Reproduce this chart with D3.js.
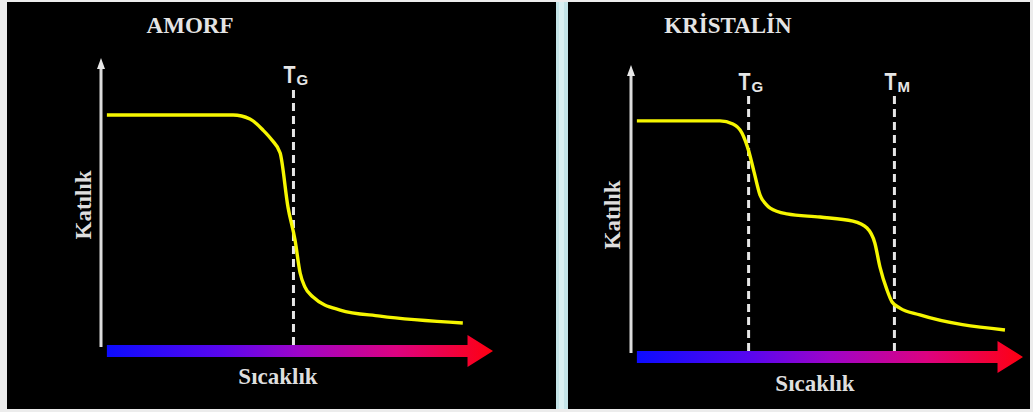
<!DOCTYPE html>
<html>
<head>
<meta charset="utf-8">
<script src="https://cdn.jsdelivr.net/npm/d3@7"></script>
<style>
  html, body { margin: 0; padding: 0; background: #ececec; }
  svg { display: block; }
</style>
</head>
<body>
<svg id="chart" width="1033" height="412"></svg>
<script>
// ---- Data (temperature and solidity in relative units 0..100) ----
const panelTitles = ["AMORF", "KRİSTALİN"];
const xAxisLabel = "Sıcaklık";
const yAxisLabel = "Katılık";

const amorfTemp    = [1.5, 33.7, 38.0, 41.3, 43.6, 45.7, 47.7, 49.5, 50.8, 52.0, 54.1, 61.0, 71.2, 92.3];
const amorfKatilik = [80.3, 80.3, 78.9, 75.1, 71.6, 67.1, 48.4, 37.0, 25.6, 20.8, 17.3, 12.8, 10.7, 8.3];

const kristalinTemp    = [1.5, 22.7, 26.0, 28.3, 30.1, 31.4, 32.9, 34.4, 35.5, 39.8, 48.2, 56.6, 60.2, 62.2, 63.5, 65.3, 66.6, 68.6, 73.7, 95.4];
const kristalinKatilik = [80.6, 80.6, 79.5, 76.4, 69.8, 62.8, 54.9, 51.7, 50.3, 48.3, 47.2, 45.8, 43.4, 38.2, 29.9, 21.9, 17.7, 15.6, 13.2, 8.0];

const amorfMarkers     = [{ main: "T", sub: "G", t: 49.1 }];
const kristalinMarkers = [{ main: "T", sub: "G", t: 30.0 }, { main: "T", sub: "M", t: 67.2 }];

// ---- Drawing ----
const svg = d3.select("#chart");
const defs = svg.append("defs");

// background panels
svg.append("rect").attr("x", 0).attr("y", 0).attr("width", 1033).attr("height", 412).attr("fill", "#ececec");
svg.append("rect").attr("x", 7).attr("y", 2).attr("width", 549).attr("height", 407).attr("fill", "#000");
svg.append("rect").attr("x", 556).attr("y", 2).attr("width", 12).attr("height", 407).attr("fill", "#c4e4e8");
svg.append("rect").attr("x", 559).attr("y", 2).attr("width", 5).attr("height", 407).attr("fill", "#daf0f2");
svg.append("rect").attr("x", 568).attr("y", 2).attr("width", 462).attr("height", 407).attr("fill", "#000");

const grad = defs.append("linearGradient").attr("id", "tempGrad")
  .attr("x1", "0%").attr("x2", "100%").attr("y1", "0%").attr("y2", "0%");
[["0%", "#0c0cff"], ["30%", "#5a06ee"], ["50%", "#9e04c8"], ["75%", "#dc0280"], ["100%", "#ff0010"]]
  .forEach(([o, c]) => grad.append("stop").attr("offset", o).attr("stop-color", c));

const panels = [
  { title: panelTitles[0], temp: amorfTemp, kat: amorfKatilik, markers: amorfMarkers,
    xr: [101, 493], yr: [347, 58], titleX: 190, xLabelX: 278, xLabelY: 384, yLabelX: 83, yLabelY: 205 },
  { title: panelTitles[1], temp: kristalinTemp, kat: kristalinKatilik, markers: kristalinMarkers,
    xr: [631, 1023], yr: [353, 65], titleX: 728, xLabelX: 815, xLabelY: 391, yLabelX: 612, yLabelY: 215 }
];

panels.forEach(p => {
  const x = d3.scaleLinear().domain([0, 100]).range(p.xr);
  const y = d3.scaleLinear().domain([0, 100]).range(p.yr);
  const g = svg.append("g");

  // title
  g.append("text").attr("x", p.titleX).attr("y", 33)
    .attr("text-anchor", "middle")
    .attr("font-family", "'Liberation Serif', 'Times New Roman', serif")
    .attr("font-weight", "bold").attr("font-size", 23)
    .attr("fill", "#e4e4e4").text(p.title);

  // y axis arrow
  g.append("line").attr("x1", x(0)).attr("x2", x(0))
    .attr("y1", y(0)).attr("y2", y(100) + 8)
    .attr("stroke", "#dcdcdc").attr("stroke-width", 3);
  g.append("path")
    .attr("d", `M${x(0) - 4},${y(100) + 11} L${x(0)},${y(100)} L${x(0) + 4},${y(100) + 11} Z`)
    .attr("fill", "#e8e8e8");

  // y label
  g.append("text")
    .attr("transform", `translate(${p.yLabelX},${p.yLabelY}) rotate(-90)`)
    .attr("text-anchor", "middle").attr("dominant-baseline", "central")
    .attr("font-family", "'Liberation Serif', 'Times New Roman', serif")
    .attr("font-weight", "bold").attr("font-size", 23)
    .attr("fill", "#dedede").text(yAxisLabel);

  // temperature gradient arrow
  const yc = y(0) + 4;
  const headStart = x(93.5);
  g.append("path")
    .attr("d", `M${x(1.5)},${yc - 6} L${headStart},${yc - 6} L${headStart},${yc - 16} L${x(100)},${yc} L${headStart},${yc + 16} L${headStart},${yc + 6} L${x(1.5)},${yc + 6} Z`)
    .attr("fill", "url(#tempGrad)");

  // x label
  g.append("text").attr("x", p.xLabelX).attr("y", p.xLabelY)
    .attr("text-anchor", "middle")
    .attr("font-family", "'Liberation Serif', 'Times New Roman', serif")
    .attr("font-weight", "bold").attr("font-size", 23)
    .attr("fill", "#dedede").text(xAxisLabel);

  // transition markers
  p.markers.forEach(m => {
    const mx = x(m.t);
    g.append("line").attr("x1", mx).attr("x2", mx)
      .attr("y1", y(0) - 2).attr("y2", y(90))
      .attr("stroke", "#e6e6e6").attr("stroke-width", 3)
      .attr("stroke-dasharray", "8,5");
    g.append("text").attr("x", mx - 10).attr("y", y(90) - 4)
      .attr("font-family", "'Liberation Sans', Arial, sans-serif")
      .attr("font-weight", "bold").attr("font-size", 24)
      .attr("textLength", 12).attr("lengthAdjust", "spacingAndGlyphs")
      .attr("fill", "#e6e6e6").text(m.main);
    g.append("text").attr("x", mx + 3).attr("y", y(90) - 2)
      .attr("font-family", "'Liberation Sans', Arial, sans-serif")
      .attr("font-weight", "bold").attr("font-size", 15)
      .attr("fill", "#e6e6e6").text(m.sub);
  });

  // curve
  const line = d3.line().x(d => x(d[0])).y(d => y(d[1])).curve(d3.curveMonotoneX);
  g.append("path").datum(d3.zip(p.temp, p.kat))
    .attr("d", line)
    .attr("fill", "none").attr("stroke", "#f6f600").attr("stroke-width", 3.4)
    .attr("stroke-linejoin", "round").attr("stroke-linecap", "butt");
});
</script>
</body>
</html>
